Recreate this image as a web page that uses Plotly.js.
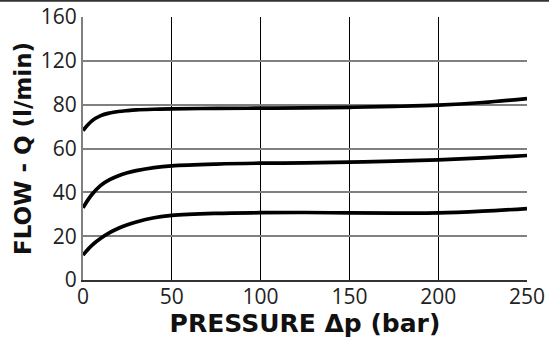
<!DOCTYPE html>
<html>
<head>
<meta charset="utf-8">
<script src="https://cdn.plot.ly/plotly-3.0.1.min.js"></script>
<style>html,body{margin:0;padding:0;background:#fff;}#chart{width:549px;height:338px;}</style>
</head>
<body>
<div id="chart"></div>
<script>
// Pressure drop (bar)
const pressure = [0, 5, 10, 15, 20, 25, 30, 40, 50, 75, 100, 125, 150, 175, 200, 225, 250];
// Flow curves (l/min)
const flowHigh = [68.2, 72.6, 75.0, 76.2, 76.9, 77.3, 77.6, 77.9, 78.1, 78.3, 78.4, 78.5, 78.8, 79.2, 79.8, 81.0, 82.8];
const flowMid  = [33.0, 39.0, 43.2, 45.8, 47.6, 48.9, 49.9, 51.3, 52.1, 52.9, 53.3, 53.4, 53.8, 54.2, 54.8, 55.7, 56.8];
const flowLow  = [11.4, 15.8, 19.0, 21.6, 23.6, 25.2, 26.5, 28.4, 29.5, 30.4, 30.7, 30.8, 30.6, 30.5, 30.6, 31.4, 32.6];
// Y axis gridline positions and their printed labels (upper part of scale is compressed in the original)
const yTickVals = [0, 20, 40, 60, 80, 100, 120];
const yTickText = ['0', '20', '40', '60', '80', '120', '160'];
const xTickVals = [0, 50, 100, 150, 200, 250];

const series = [flowHigh, flowMid, flowLow];
const traces = series.map(s => ({
  x: pressure, y: s, type: 'scatter', mode: 'lines',
  line: {color: '#000', width: 3.7, shape: 'spline', smoothing: 1},
  hoverinfo: 'skip', showlegend: false
}));

const tickFam = '"Open Sans", sans-serif';
const titleFam = '"DejaVu Sans", sans-serif';
const layout = {
  width: 549, height: 338,
  margin: {l: 83, r: 22, t: 17, b: 58},
  paper_bgcolor: '#fff', plot_bgcolor: '#fff',
  showlegend: false,
  xaxis: {
    range: [0, 250], tickvals: xTickVals, ticks: '',
    showgrid: true, gridcolor: '#000', gridwidth: 1,
    showline: true, linecolor: '#333', linewidth: 1.5,
    zeroline: false, ticklabelstandoff: -3,
    tickfont: {family: tickFam, size: 21, color: '#222'},
    title: {text: '<b>PRESSURE Δp (bar)</b>', font: {family: titleFam, size: 25, color: '#111'}, standoff: 2}
  },
  yaxis: {
    range: [0, 120], tickvals: yTickVals, ticktext: yTickText, ticks: '',
    showgrid: true, gridcolor: '#808080', gridwidth: 2,
    showline: true, linecolor: '#808080', linewidth: 2,
    zeroline: false,
    tickfont: {family: tickFam, size: 21, color: '#222'},
    title: {text: '<b>FLOW - Q (l/min)</b>', font: {family: titleFam, size: 23, color: '#111'}, standoff: 3}
  },
  shapes: [
    {type: 'line', xref: 'paper', yref: 'paper', x0: -0.2, x1: 1.1, y0: 1.062, y1: 1.062,
     line: {color: '#333', width: 2}}
  ]
};

Plotly.newPlot('chart', traces, layout, {staticPlot: true, displayModeBar: false});
</script>
</body>
</html>
